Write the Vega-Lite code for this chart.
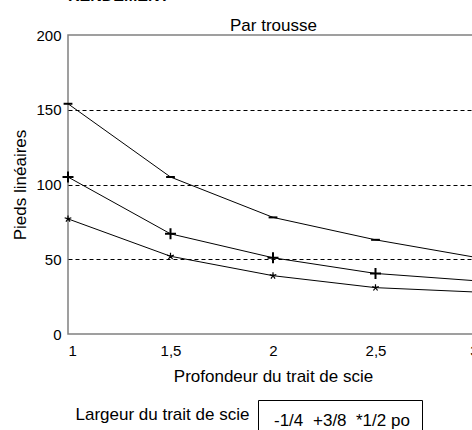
{
  "$schema": "https://vega.github.io/schema/vega-lite/v6.json",
  "autosize": {"type": "none"},
  "padding": {"left": 68, "top": 35, "right": 0, "bottom": 100},
  "width": 410,
  "height": 299,
  "config": {
    "font": "Liberation Sans",
    "view": {"stroke": "#808080", "strokeWidth": 1.5}
  },
  "title": {"text": "RENDEMENT", "anchor": "start", "fontSize": 16, "fontWeight": "bold", "color": "black", "offset": 12, "frame": "group"},
  "data": {"values": [
    {"profondeur": 1, "largeur": "1/4", "pieds": 154},
    {"profondeur": 1.5, "largeur": "1/4", "pieds": 105},
    {"profondeur": 2, "largeur": "1/4", "pieds": 78},
    {"profondeur": 2.5, "largeur": "1/4", "pieds": 63},
    {"profondeur": 3, "largeur": "1/4", "pieds": 51},
    {"profondeur": 1, "largeur": "3/8", "pieds": 105},
    {"profondeur": 1.5, "largeur": "3/8", "pieds": 67},
    {"profondeur": 2, "largeur": "3/8", "pieds": 51},
    {"profondeur": 2.5, "largeur": "3/8", "pieds": 40.5},
    {"profondeur": 3, "largeur": "3/8", "pieds": 35.5},
    {"profondeur": 1, "largeur": "1/2", "pieds": 77},
    {"profondeur": 1.5, "largeur": "1/2", "pieds": 52},
    {"profondeur": 2, "largeur": "1/2", "pieds": 39},
    {"profondeur": 2.5, "largeur": "1/2", "pieds": 31},
    {"profondeur": 3, "largeur": "1/2", "pieds": 28}
  ]},
  "resolve": {"axis": {"x": "independent"}},
  "layer": [
    {
      "mark": {"type": "line", "color": "black", "strokeWidth": 1},
      "encoding": {
        "x": {
          "field": "profondeur", "type": "quantitative",
          "scale": {"domain": [1, 3], "nice": false, "zero": false},
          "axis": {
            "orient": "bottom", "values": [1, 1.5, 2, 2.5, 3],
            "labelExpr": "replace(toString(datum.value), '.', ',')",
            "domain": false, "ticks": false, "tickSize": 0, "grid": false,
            "labelFontSize": 15, "labelColor": "black", "labelPadding": 9,
            "title": "Profondeur du trait de scie", "titleFontSize": 17, "titleFontWeight": "normal",
            "titleColor": "black", "titleBaseline": "alphabetic", "titleY": 47
          }
        },
        "y": {
          "field": "pieds", "type": "quantitative",
          "scale": {"domain": [0, 200], "nice": false},
          "axis": {
            "values": [0, 50, 100, 150, 200],
            "domain": false, "ticks": false, "tickSize": 0,
            "grid": true, "gridDash": [4, 3], "gridColor": "black", "gridWidth": 1,
            "gridOpacity": {"condition": {"test": "datum.value == 0 || datum.value == 200", "value": 0}, "value": 1},
            "labelFontSize": 15, "labelColor": "black", "labelPadding": 7,
            "title": "Pieds linéaires", "titleFontSize": 17, "titleFontWeight": "normal", "titleColor": "black",
            "titleBaseline": "alphabetic", "titleX": -43
          }
        },
        "detail": {"field": "largeur"}
      }
    },
    {
      "transform": [{"filter": "datum.largeur != '1/2'"}],
      "mark": {"type": "point", "filled": false, "opacity": 1, "color": "black", "size": 121, "strokeWidth": 2},
      "encoding": {
        "x": {
          "field": "profondeur", "type": "quantitative",
          "axis": {
            "orient": "top", "labels": false, "ticks": false, "domain": false, "grid": false,
            "title": "Par trousse", "titleFontSize": 17, "titleFontWeight": "normal", "titleColor": "black",
            "titleBaseline": "alphabetic", "titleY": -5
          }
        },
        "y": {"field": "pieds", "type": "quantitative"},
        "shape": {
          "field": "largeur", "type": "nominal",
          "scale": {"domain": ["1/4", "3/8", "1/2"], "range": ["M-0.8,0H0.8", "M-1,0H1M0,-1V1", "M0,-1V0M0,0L-0.95,-0.31M0,0L0.95,-0.31M0,0L-0.59,0.81M0,0L0.59,0.81"]},
          "legend": {
            "orient": "none", "legendX": 190, "legendY": 365, "direction": "horizontal",
            "title": null, "strokeColor": "black", "padding": 12, "gridAlign": "none",
            "symbolSize": 0, "symbolOpacity": 0, "symbolStrokeWidth": 0, "labelOffset": -13, "columnPadding": 5,
            "labelFontSize": 17, "labelColor": "black", "labelFont": "Liberation Sans", "labelLimit": 400,
            "labelExpr": "datum.value == '1/4' ? '-1/4' : datum.value == '3/8' ? '+3/8' : '*1/2 po\u2007\u2007\u2007\u2007\u2007'"
          }
        }
      }
    },
    {
      "transform": [{"filter": "datum.largeur == '1/2'"}],
      "mark": {"type": "point", "filled": false, "opacity": 1, "color": "black", "size": 49, "strokeWidth": 1.2},
      "encoding": {
        "x": {
          "field": "profondeur", "type": "quantitative",
          "axis": {
            "orient": "bottom", "labels": false, "ticks": false, "domain": false, "grid": false,
            "title": "Largeur du trait de scie", "titleFontSize": 17, "titleFontWeight": "normal", "titleColor": "black",
            "titleBaseline": "alphabetic", "titleAlign": "left", "titleAnchor": "start", "titleX": 7, "titleY": 85
          }
        },
        "y": {"field": "pieds", "type": "quantitative"},
        "shape": {"field": "largeur", "type": "nominal"}
      }
    }
  ]
}
